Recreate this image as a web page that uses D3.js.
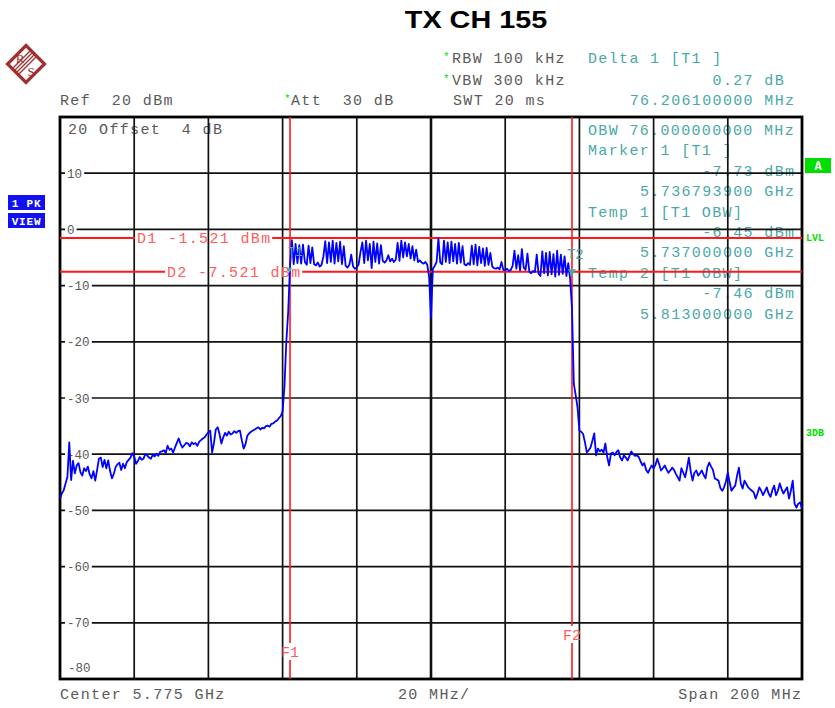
<!DOCTYPE html>
<html><head><meta charset="utf-8">
<script src="https://cdn.jsdelivr.net/npm/d3@7"></script>
<style>
html,body{margin:0;padding:0;background:#fff;}
svg{display:block;}
</style></head><body>
<svg id="c" width="835" height="708"></svg>
<script>
// ---------- data ----------
const title = "TX CH 155";
const startGHz = 5.675, stopGHz = 5.875, stepGHz = 0.0005, divGHz = 0.02;
const refLevel = 20, bottomLevel = -80;
const levelTicks = [10, 0, -10, -20, -30, -40, -50, -60, -70];
const levelTickLabels = ["10", "0", "-10", "-20", "-30", "-40", "-50", "-60", "-70"];
const displayLineNames = ["D1", "D2"];
const displayLineLevels = [-1.521, -7.521];
const freqLineNames = ["F1", "F2"];
const freqLineGHz = [5.737, 5.813];
const headerLeft = ["Ref  20 dBm"];
const headerMid = ["Att  30 dB"];
const headerSettings = ["RBW 100 kHz", "VBW 300 kHz", "SWT 20 ms"];
const headerDelta = ["Delta 1 [T1 ]", "0.27 dB ", "76.206100000 MHz"];
const markerInfo = ["OBW 76.000000000 MHz", "Marker 1 [T1 ]", "-7.73 dBm", "5.736793900 GHz",
  "Temp 1 [T1 OBW]", "-6.45 dBm", "5.737000000 GHz", "Temp 2 [T1 OBW]", "-7.46 dBm", "5.813000000 GHz"];
const markerInfoAlign = ["l", "l", "r", "r", "l", "r", "r", "l", "r", "r"];
const footer = ["Center 5.775 GHz", "20 MHz/", "Span 200 MHz"];

// trace levels (dBm), 0.5 MHz per point from 5.675 GHz
const leftSkirt = [
-47.9,-47.0,-46.4,-45.2,-44.0,-37.9,-44.6,-41.2,-43.4,-42.0,
-41.6,-43.2,-43.8,-42.5,-43.0,-42.2,-43.6,-44.3,-43.0,-44.7,
-42.8,-40.8,-40.6,-42.3,-41.0,-42.5,-41.1,-43.0,-44.3,-43.5,
-42.3,-41.8,-41.5,-42.8,-41.7,-42.5,-41.4,-41.0,-40.6,-39.8,
-40.4,-41.7,-41.2,-40.5,-41.0,-40.8,-40.0,-40.2,-40.6,-40.8,
-40.1,-40.4,-39.9,-40.3,-39.6,-39.5,-39.3,-39.8,-38.5,-39.2,
-39.0,-39.7,-38.8,-38.0,-37.2,-38.2,-38.8,-38.4,-38.0,-38.1,
-38.6,-37.9,-38.2,-38.0,-38.5,-37.8,-37.5,-37.2,-37.0,-36.5,
-36.1,-35.8,-39.7,-38.0,-35.6,-35.2,-36.4,-38.1,-37.0,-36.2,
-36.7,-36.0,-36.5,-36.3,-35.9,-36.2,-35.9,-35.8,-37.5,-39.0,
-38.2,-36.7,-36.3,-36.0,-35.8,-35.6,-35.4,-35.2,-35.6,-35.3,
-35.4,-35.0,-34.9,-35.1,-34.6,-34.5,-34.2,-34.0,-33.6,-33.2,
-32.4,-28.0,-20.0,-14.8];
const inBand = [
-6.5,-1.9,-6.2,-2.6,-6.0,-2.8,-6.1,-2.7,-5.8,-6.3,
-2.9,-6.0,-3.2,-6.2,-6.4,-5.9,-6.6,-6.3,-4.8,-2.1,
-6.0,-2.3,-5.8,-2.0,-6.1,-2.4,-5.7,-2.2,-6.2,-3.0,
-6.5,-6.8,-6.3,-4.5,-6.6,-7.0,-6.8,-6.2,-4.0,-2.3,
-6.0,-2.0,-5.5,-2.6,-6.9,-2.2,-5.8,-2.5,-6.1,-2.8,
-5.6,-5.9,-5.5,-4.6,-5.7,-5.2,-5.8,-5.4,-2.4,-5.6,
-2.0,-5.0,-2.3,-4.8,-2.6,-5.2,-3.0,-5.5,-3.6,-5.8,
-5.5,-5.9,-6.1,-5.8,-6.3,-8.5,-15.7,-7.0,-6.5,-5.8,
-1.6,-5.9,-6.2,-2.0,-5.8,-2.3,-6.0,-2.2,-5.7,-2.6,
-6.1,-2.4,-5.9,-3.0,-6.2,-6.4,-6.0,-6.3,-2.9,-6.2,
-2.7,-6.4,-3.1,-6.0,-3.4,-6.5,-3.3,-6.3,-4.2,-6.6,
-6.9,-7.0,-6.8,-7.1,-5.8,-7.2,-7.3,-7.0,-7.4,-7.2,
-6.5,-3.8,-7.0,-4.6,-7.3,-3.5,-6.8,-7.2,-4.3,-7.5,
-7.8,-7.4,-7.6,-4.5,-7.9,-8.3,-3.9,-7.8,-4.2,-8.2,
-4.0,-8.0,-4.4,-8.4,-3.8,-8.1,-4.5,-7.9,-4.8,-8.3,
-6.0,-8.8,-14.0];
const rightSkirt = [
-27.5,-29.5,-31.7,-35.8,-36.0,-36.4,-37.9,-39.7,-39.3,-38.8,
-37.6,-36.3,-40.2,-39.0,-39.5,-39.2,-39.7,-38.1,-40.5,-42.0,
-39.9,-39.7,-40.2,-39.6,-39.3,-40.6,-41.1,-40.2,-40.6,-41.1,
-40.3,-39.5,-40.0,-40.3,-40.2,-40.5,-41.3,-42.0,-41.6,-42.8,
-43.3,-42.6,-42.0,-42.5,-41.9,-40.8,-41.8,-42.9,-42.5,-42.0,
-42.7,-43.3,-42.9,-42.4,-42.8,-43.5,-44.1,-44.7,-42.5,-43.3,
-44.1,-42.5,-40.6,-43.0,-44.7,-43.3,-42.9,-43.8,-43.4,-42.9,
-43.7,-44.3,-42.3,-41.5,-42.2,-42.8,-44.3,-44.5,-44.7,-46.0,
-46.5,-45.9,-44.8,-43.3,-45.0,-46.5,-46.0,-45.6,-43.8,-42.4,
-45.2,-46.1,-44.7,-45.3,-45.9,-46.2,-46.5,-46.8,-47.9,-47.0,
-45.9,-46.5,-47.3,-46.6,-45.9,-47.0,-47.6,-46.4,-45.6,-47.3,
-46.5,-45.2,-46.2,-47.0,-46.4,-45.9,-47.9,-46.5,-44.7,-48.8,
-49.5,-48.8,-48.6,-49.6];

// ---------- drawing ----------
const MONO = "'Liberation Mono','DejaVu Sans Mono',monospace";
const FS = 15, LS = 1.35, ADV = FS * 0.6 + LS;
const TEAL = "#4aa8a8", GRAY = "#5a5a5a", RED = "#ff1a1a", LRED = "#ff5c5c", BLUE = "#0000ff", GREEN = "#00dd00";

const svg = d3.select("#c");
svg.append("rect").attr("width", 835).attr("height", 708).attr("fill", "#fff");

const L = 60, R = 802, T = 117, B = 679;
const x = d3.scaleLinear().domain([startGHz, stopGHz]).range([L, R]);
const y = d3.scaleLinear().domain([bottomLevel, refLevel]).range([B, T]);

function mono(g, px, py, str, color, align) {
  const sx = align === "r" ? px - str.length * ADV + LS : px;
  return g.append("text").attr("x", sx).attr("y", py).text(str)
    .attr("font-family", MONO).attr("font-size", FS).attr("letter-spacing", LS)
    .attr("fill", color).attr("xml:space", "preserve").style("white-space", "pre");
}

// title
svg.append("text").attr("transform", "translate(476,28) scale(1.2,1)")
  .attr("text-anchor", "middle").attr("font-family", "'Liberation Sans',Arial,sans-serif")
  .attr("font-weight", "bold").attr("font-size", 24).attr("fill", "#000").text(title);

// logo
const logo = svg.append("g").attr("transform", "translate(26,64)");
const lc = "#a03030";
logo.append("path").attr("d", "M0,-18.5 L18.5,0 L0,18.5 L-18.5,0 Z").attr("fill", "none").attr("stroke", lc).attr("stroke-width", 3.2);
[-3, -1, 1, 3].forEach(o => logo.append("line").attr("x1", -11 + o).attr("y1", 8 + o).attr("x2", 8 + o).attr("y2", -11 + o).attr("stroke", lc).attr("stroke-width", 1.2));
logo.append("text").attr("x", -6).attr("y", -1).attr("font-family", "'Liberation Serif',serif").attr("font-size", 13).attr("fill", lc).attr("text-anchor", "middle").text("R");
logo.append("text").attr("x", 5).attr("y", 12).attr("font-family", "'Liberation Serif',serif").attr("font-size", 13).attr("fill", lc).attr("text-anchor", "middle").text("S");

// header texts
const hdr = svg.append("g");
mono(hdr, 60, 105, headerLeft[0], GRAY);
mono(hdr, 291, 105, headerMid[0], GRAY);
mono(hdr, 452, 63, headerSettings[0], GRAY);
mono(hdr, 452, 85, headerSettings[1], GRAY);
mono(hdr, 453, 105, headerSettings[2], GRAY);
[[284, 102], [443, 60], [443, 82]].forEach(p => hdr.append("text").attr("x", p[0]).attr("y", p[1])
  .attr("font-family", MONO).attr("font-size", 11).attr("fill", GREEN).text("*"));
mono(hdr, 588, 63, headerDelta[0], TEAL);
mono(hdr, 794, 85, headerDelta[1], TEAL, "r");
mono(hdr, 794, 105, headerDelta[2], TEAL, "r");

// inside texts under grid
const under = svg.append("g");
mono(under, 68, 134, "20 Offset  4 dB", GRAY);
markerInfo.forEach((s, i) => {
  const py = 135 + i * 20.4;
  if (markerInfoAlign[i] === "l") mono(under, 588, py, s, TEAL);
  else mono(under, 794, py, s, TEAL, "r");
});

// grid
const grid = svg.append("g");
const vx = d3.range(0, 11).map(k => startGHz + k * divGHz);
grid.selectAll("line.v").data(vx).join("line")
  .attr("x1", d => x(d)).attr("x2", d => x(d)).attr("y1", T).attr("y2", B)
  .attr("stroke", "#111").attr("stroke-width", (d, i) => i === 5 ? 2.6 : 1.7);
grid.selectAll("line.h").data(levelTicks).join("line")
  .attr("x1", L).attr("x2", R).attr("y1", d => y(d)).attr("y2", d => y(d))
  .attr("stroke", "#111").attr("stroke-width", 1.7);
grid.append("rect").attr("x", L).attr("y", T).attr("width", R - L).attr("height", B - T)
  .attr("fill", "none").attr("stroke", "#000").attr("stroke-width", 2.8);

// level tick labels
const tl = svg.append("g");
levelTicks.forEach((v, i) => {
  const s = levelTickLabels[i];
  const w = s.length * 7.6 + 4;
  tl.append("rect").attr("x", 65).attr("y", y(v) - 3).attr("width", w).attr("height", 6).attr("fill", "#fff");
  tl.append("text").attr("x", 67).attr("y", y(v) + 4.5).text(s)
    .attr("font-family", MONO).attr("font-size", 12.5).attr("fill", GRAY);
});
tl.append("text").attr("x", 68).attr("y", 672).text("-80")
  .attr("font-family", MONO).attr("font-size", 12.5).attr("fill", GRAY);

// display lines D1/D2
const dl = svg.append("g");
const dLabelX = [137, 167];
displayLineLevels.forEach((v, i) => {
  const s = displayLineNames[i] + " " + v.toFixed(3) + " dBm";
  const x0 = dLabelX[i], x1 = x0 + s.length * ADV - LS;
  dl.append("line").attr("x1", L).attr("x2", x0 - 2).attr("y1", y(v)).attr("y2", y(v)).attr("stroke", RED).attr("stroke-width", 2);
  dl.append("line").attr("x1", x1 + 2).attr("x2", R).attr("y1", y(v)).attr("y2", y(v)).attr("stroke", RED).attr("stroke-width", 2);
  mono(dl, x0, y(v) + 5, s, LRED);
});

// frequency lines F1/F2
const fl = svg.append("g");
const fLabelY = [652, 635];
freqLineGHz.forEach((f, i) => {
  const fx = x(f);
  fl.append("line").attr("x1", fx).attr("x2", fx).attr("y1", T).attr("y2", fLabelY[i] - 9).attr("stroke", RED).attr("stroke-width", 1.6);
  fl.append("line").attr("x1", fx).attr("x2", fx).attr("y1", fLabelY[i] + 8).attr("y2", B).attr("stroke", RED).attr("stroke-width", 1.6);
  fl.append("text").attr("x", fx).attr("y", fLabelY[i] + 5).attr("text-anchor", "middle")
    .attr("font-family", MONO).attr("font-size", FS).attr("fill", LRED).text(freqLineNames[i]);
});

// trace
const levels = leftSkirt.concat(inBand, rightSkirt);
const pts = levels.map((v, i) => [startGHz + i * stepGHz, v]);
svg.append("path").datum(pts)
  .attr("d", d3.line().x(d => x(d[0])).y(d => y(d[1])))
  .attr("fill", "none").attr("stroke", BLUE).attr("stroke-width", 1.8).attr("stroke-linejoin", "round");

// marker labels
const mk = svg.append("g");
mk.append("text").attr("x", x(freqLineGHz[0]) - 2).attr("y", 256).attr("font-family", MONO).attr("font-size", 12).attr("fill", TEAL).text("T1");
mk.append("text").attr("x", x(freqLineGHz[1]) - 5).attr("y", 259).attr("font-family", MONO).attr("font-size", 14).attr("fill", TEAL).text("T2");
mk.append("path").attr("d", `M${x(5.736794) - 3},${y(-7.73) - 5} L${x(5.736794) + 3},${y(-7.73) - 5} L${x(5.736794)},${y(-7.73)} Z`).attr("fill", TEAL);
mk.append("path").attr("d", `M${x(freqLineGHz[1]) - 4},${y(-7.46) - 2} L${x(freqLineGHz[1]) + 4},${y(-7.46) - 2} L${x(freqLineGHz[1])},${y(-7.46) + 5} Z`).attr("fill", TEAL);

// left boxes
const bx = svg.append("g");
[["1 PK", 195], ["VIEW", 213]].forEach(([s, by]) => {
  bx.append("rect").attr("x", 8).attr("y", by).attr("width", 37).attr("height", 15).attr("fill", "#1010f0");
  bx.append("text").attr("x", 26.5).attr("y", by + 11.5).attr("text-anchor", "middle")
    .attr("font-family", MONO).attr("font-size", 11).attr("font-weight", "bold").attr("letter-spacing", 0.8)
    .attr("fill", "#fff").attr("xml:space", "preserve").text(s);
});

// right green indicators
bx.append("rect").attr("x", 805).attr("y", 158).attr("width", 26).attr("height", 15).attr("fill", GREEN);
bx.append("text").attr("x", 818).attr("y", 170).attr("text-anchor", "middle").attr("font-family", MONO)
  .attr("font-size", 12).attr("font-weight", "bold").attr("fill", "#fff").text("A");
bx.append("text").attr("x", 806).attr("y", 241).attr("font-family", MONO).attr("font-size", 10)
  .attr("font-weight", "bold").attr("fill", GREEN).text("LVL");
bx.append("text").attr("x", 806).attr("y", 436).attr("font-family", MONO).attr("font-size", 10)
  .attr("font-weight", "bold").attr("fill", GREEN).text("3DB");

// footer
const ft = svg.append("g");
mono(ft, 60, 699, footer[0], GRAY);
mono(ft, 398, 699, footer[1], GRAY);
mono(ft, 801, 699, footer[2], GRAY, "r");
</script>
</body></html>
